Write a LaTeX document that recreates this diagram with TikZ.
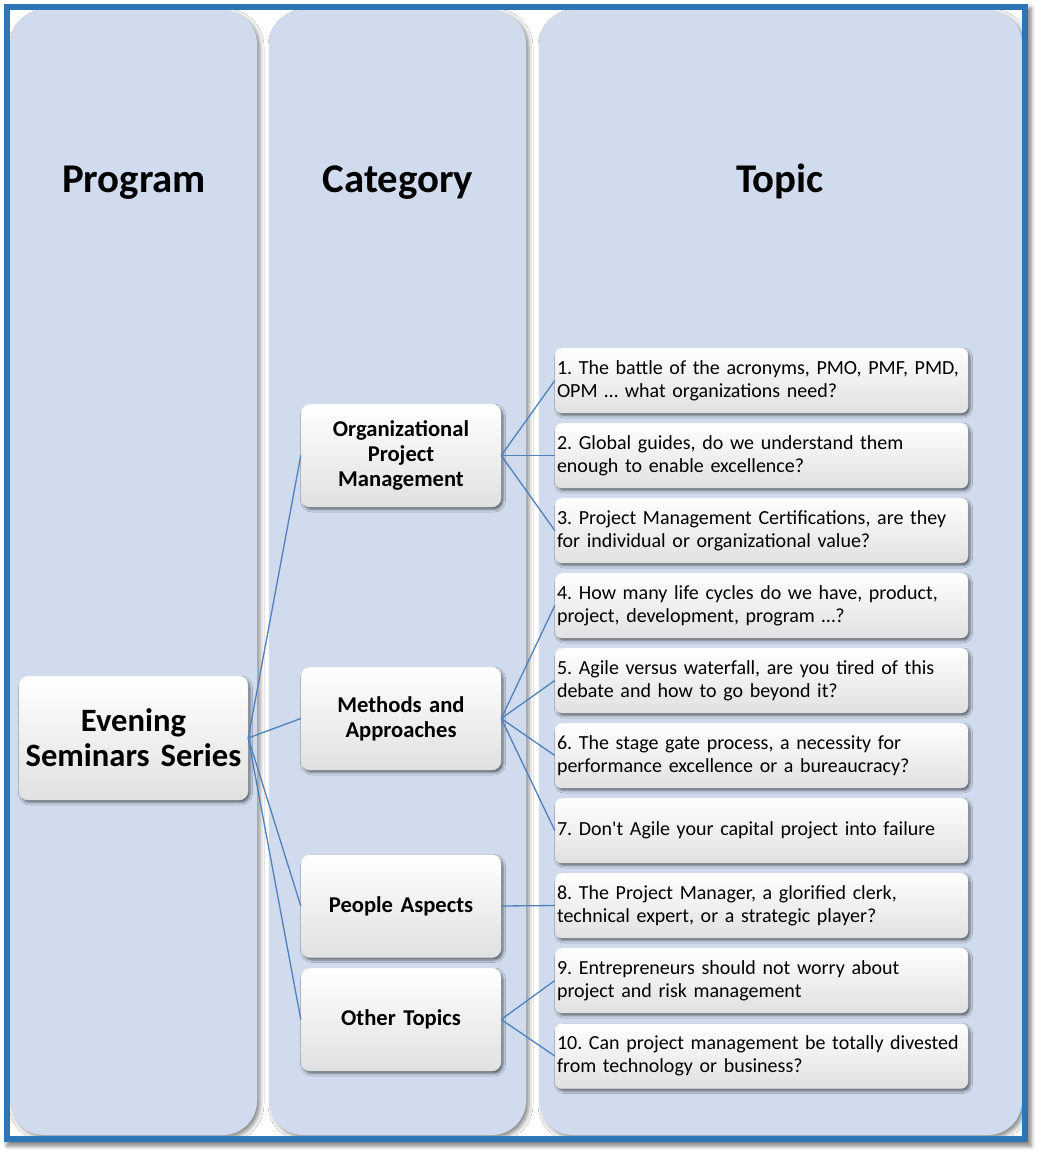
\documentclass[tikz,border=0pt]{standalone}
\usepackage{fontspec}
\setmainfont{Carlito}[Ligatures=TeXOff]
\usetikzlibrary{shadows,shadows.blur}
\definecolor{colfill}{RGB}{208,220,238}
\definecolor{frameblue}{RGB}{46,117,182}
\definecolor{linkblue}{RGB}{79,129,189}
\frenchspacing
\tikzset{
  colbox/.style={fill=colfill, rounded corners=34pt,
    blur shadow={shadow xshift=3pt, shadow yshift=-3pt, shadow blur radius=4pt, shadow opacity=45}},
  header/.style={anchor=base, font=\fontsize{40.8}{48}\selectfont\bfseries},
  basebox/.style={rectangle, rounded corners=9pt, draw=black!12, line width=0.4pt,
    top color=white, middle color=white, bottom color=black!12,
    blur shadow={shadow xshift=2pt, shadow yshift=-2.5pt, shadow blur radius=2.5pt, shadow opacity=55}},
  progbox/.style={basebox, minimum width=229pt, minimum height=124pt, text width=225pt,
    align=center, inner xsep=2pt, font=\fontsize{32.6}{35}\selectfont\bfseries},
  catbox/.style={basebox, minimum width=200pt, minimum height=103pt, text width=194pt,
    align=center, inner xsep=3pt, font=\fontsize{22.6}{25}\selectfont\bfseries},
  topicbox/.style={basebox, rounded corners=7pt, minimum width=413pt, minimum height=65pt, text width=409pt,
    align=left, inner xsep=2pt, font=\fontsize{20}{23}\selectfont},
  link/.style={draw=linkblue, line width=1.3pt}
}
\begin{document}
\begin{tikzpicture}[x=1pt,y=-1pt]
\useasboundingbox (0,0) rectangle (1041,1154);
% frame background and shadow
\fill[white, blur shadow={shadow xshift=3pt, shadow yshift=-4pt, shadow blur radius=4pt, shadow opacity=50}] (4,4) rectangle (1028,1142);
% columns
\path[colbox] (10,10) rectangle (257,1135);
\path[colbox] (269,10) rectangle (526,1135);
\path[colbox] (539,10) rectangle (1022,1135);
% frame
\draw[frameblue, line width=6pt] (7,7) rectangle (1025,1139);
% headers
\node[header] (hprog) at (134,192) {Program};
\node[header] (hcat) at (398,192) {Category};
\node[header] (htop) at (780,192) {Topic};
% program
\node[progbox] (ess) at (133.5,738) {Evening\\Seminars Series};
% categories
\node[catbox] (c1) at (401,455.5) {Organizational\\Project\\Management};
\node[catbox] (c2) at (401,718.5) {Methods and\\Approaches};
\node[catbox] (c3) at (401,906) {People Aspects};
\node[catbox] (c4) at (401,1019.5) {Other Topics};
% topics
\node[topicbox] (t1) at (761.5,380.5) {1. The battle of the acronyms, PMO, PMF, PMD,\\OPM … what organizations need?};
\node[topicbox] (t2) at (761.5,455.5) {2. Global guides, do we understand them\\enough to enable excellence?};
\node[topicbox] (t3) at (761.5,530.5) {3. Project Management Certifications, are they\\for individual or organizational value?};
\node[topicbox] (t4) at (761.5,605.5) {4. How many life cycles do we have, product,\\project, development, program …?};
\node[topicbox] (t5) at (761.5,680.5) {5. Agile versus waterfall, are you tired of this\\debate and how to go beyond it?};
\node[topicbox] (t6) at (761.5,755.5) {6. The stage gate process, a necessity for\\performance excellence or a bureaucracy?};
\node[topicbox] (t7) at (761.5,830.5) {7. Don't Agile your capital project into failure};
\node[topicbox] (t8) at (761.5,905.5) {8. The Project Manager, a glorified clerk,\\technical expert, or a strategic player?};
\node[topicbox] (t9) at (761.5,980.5) {9. Entrepreneurs should not worry about\\project and risk management};
\node[topicbox] (t10) at (761.5,1056) {10. Can project management be totally divested\\from technology or business?};
% connectors
\foreach \c in {c1,c2,c3,c4} \draw[link] (ess.east) -- (\c.west);
\foreach \t in {t1,t2,t3} \draw[link] (c1.east) -- (\t.west);
\foreach \t in {t4,t5,t6,t7} \draw[link] (c2.east) -- (\t.west);
\draw[link] (c3.east) -- (t8.west);
\foreach \t in {t9,t10} \draw[link] (c4.east) -- (\t.west);
\end{tikzpicture}
\end{document}
